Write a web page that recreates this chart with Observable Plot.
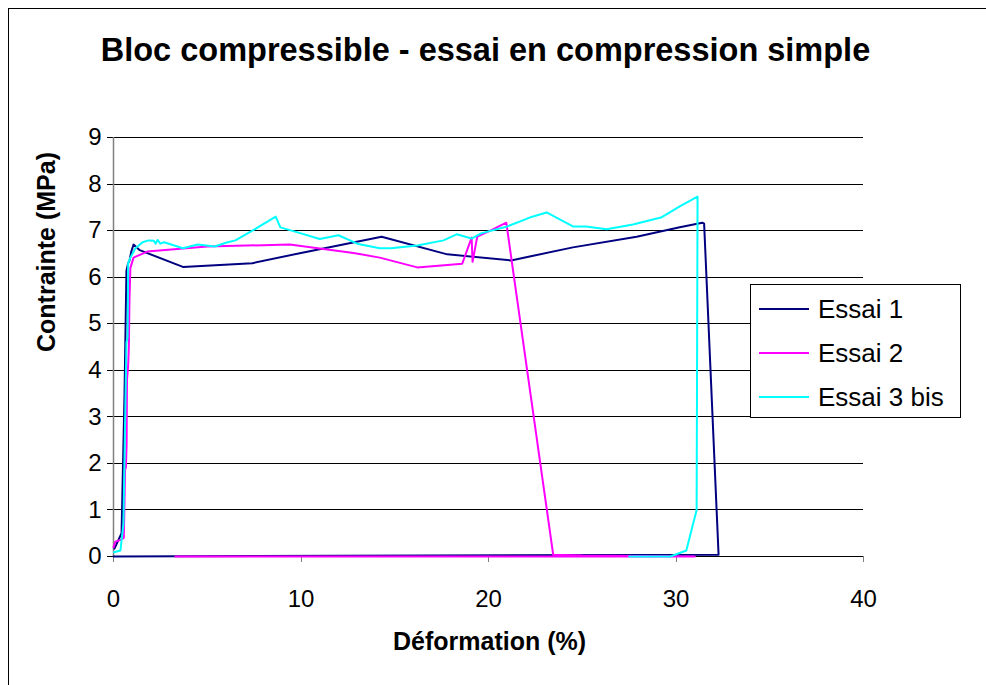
<!DOCTYPE html>
<html><head><meta charset="utf-8">
<script src="https://cdn.jsdelivr.net/npm/d3@7"></script>
<script src="https://cdn.jsdelivr.net/npm/@observablehq/plot@0.6"></script>
<style>
body{margin:0;background:#fff;}
#wrap{position:relative;width:986px;height:685px;overflow:hidden;font-family:"Liberation Sans",Arial,sans-serif;color:#000;}
#frame{position:absolute;left:8px;top:8px;width:1200px;height:1200px;border-left:1px solid #000;border-top:1px solid #000;}
#chart{position:absolute;left:0;top:0;}
#legend{position:absolute;left:750px;top:284px;width:211px;height:134px;border:1px solid #000;background:#fff;box-sizing:border-box;}
.item{position:absolute;left:8px;height:30px;display:flex;align-items:center;font-size:26px;white-space:nowrap;}
.swatch{width:50px;height:2px;margin-right:9px;}
</style></head>
<body><div id="wrap"><div id="frame"></div><div id="chart"></div><div id="legend"></div></div>
<script>
const titleText = "Bloc compressible - essai en compression simple";
const xLabel = "Déformation (%)";
const yLabel = "Contrainte (MPa)";
const seriesNames = ["Essai 1", "Essai 2", "Essai 3 bis"];
const seriesColors = ["#000080", "#FF00FF", "#00FFFF"];
const xTicks = [0, 10, 20, 30, 40];
const yTicks = [0, 1, 2, 3, 4, 5, 6, 7, 8, 9];

const essai1X = [0.05, 0.43, 0.59, 0.69, 0.78, 0.85, 0.95, 1.07, 1.4, 3.7, 7.4, 10.0, 14.3, 17.8, 21.2, 24.5, 27.9, 30.2, 31.4, 31.5, 32.27, 0.0];
const essai1Y = [0.17, 0.5, 3.54, 6.14, 6.3, 6.35, 6.55, 6.7, 6.58, 6.22, 6.3, 6.52, 6.87, 6.49, 6.36, 6.64, 6.87, 7.07, 7.17, 7.15, 0.04, 0.0];

const essai2X = [0.0, 0.1, 0.4, 0.55, 0.62, 0.66, 0.7, 0.72, 0.78, 0.82, 0.85, 0.9, 1.07, 1.8, 5.0, 9.4, 12.8, 14.2, 16.2, 18.6, 19.1, 19.15, 19.4, 20.1, 20.95, 23.45, 25.0, 31.0, 3.3];
const essai2Y = [0.2, 0.32, 0.36, 0.4, 1.9, 1.9, 2.4, 3.8, 4.1, 4.5, 5.5, 6.2, 6.42, 6.55, 6.66, 6.7, 6.52, 6.42, 6.21, 6.29, 6.85, 6.33, 6.87, 7.0, 7.17, 0.04, 0.02, 0.0, 0.0];

const essai3X = [0.02, 0.37, 0.53, 0.69, 0.75, 0.78, 0.9, 1.17, 1.55, 1.87, 2.15, 2.25, 2.35, 2.5, 2.7, 3.7, 4.5, 5.4, 6.0, 6.5, 7.5, 8.65, 8.9, 10.0, 11.0, 12.0, 13.0, 14.2, 14.8, 16.2, 17.6, 18.3, 19.1, 19.6, 21.0, 22.2, 23.1, 24.5, 25.2, 26.3, 27.7, 29.2, 30.2, 31.15, 31.1, 30.55, 29.7, 27.5];
const essai3Y = [0.09, 0.13, 0.7, 4.6, 4.7, 6.3, 6.42, 6.62, 6.75, 6.79, 6.78, 6.72, 6.8, 6.72, 6.75, 6.62, 6.7, 6.66, 6.74, 6.79, 7.02, 7.3, 7.07, 6.94, 6.82, 6.9, 6.72, 6.62, 6.62, 6.68, 6.79, 6.92, 6.83, 6.94, 7.09, 7.28, 7.39, 7.09, 7.09, 7.03, 7.13, 7.28, 7.52, 7.73, 1.0, 0.13, 0.0, 0.0];

const toRows = (xs, ys) => xs.map((x, i) => ({x, y: ys[i]}));
const s1 = toRows(essai1X, essai1Y);
const s2 = toRows(essai2X, essai2Y);
const s3 = toRows(essai3X, essai3Y);

const font = '"Liberation Sans", Arial, sans-serif';
const chart = Plot.plot({
  width: 986, height: 685,
  marginLeft: 113, marginRight: 123, marginTop: 137, marginBottom: 129,
  style: {fontFamily: font, background: "transparent", color: "#000", overflow: "visible"},
  x: {domain: [0, 40]},
  y: {domain: [0, 9]},
  marks: [
    Plot.gridY(yTicks, {stroke: "#000", strokeOpacity: 1, strokeWidth: 1, shapeRendering: "crispEdges"}),
    Plot.axisY(yTicks, {tickSize: 6, tickPadding: 6, fontSize: 24, label: null, stroke: "#000", strokeOpacity: 1, shapeRendering: "crispEdges"}),
    Plot.axisX(xTicks, {tickSize: 6, tickPadding: 27, fontSize: 24, label: null, stroke: "#808080", strokeOpacity: 1, shapeRendering: "crispEdges"}),
    Plot.ruleX([0], {stroke: "#808080", strokeWidth: 1.5}),
    Plot.ruleY([0], {stroke: "#000", strokeWidth: 1, shapeRendering: "crispEdges"}),
    Plot.line(s1, {x: "x", y: "y", stroke: seriesColors[0], strokeWidth: 2}),
    Plot.line(s2, {x: "x", y: "y", stroke: seriesColors[1], strokeWidth: 2}),
    Plot.line(s3, {x: "x", y: "y", stroke: seriesColors[2], strokeWidth: 2}),
    Plot.text([titleText], {frameAnchor: "top", dx: -3, dy: -87, fontSize: 32.5, fontWeight: "bold", fill: "#000", lineAnchor: "middle"}),
    Plot.text([xLabel], {frameAnchor: "bottom", dx: 1, dy: 85, fontSize: 25, fontWeight: "bold", fill: "#000", lineAnchor: "middle"}),
    Plot.text([yLabel], {frameAnchor: "left", dx: -67, dy: 5, rotate: -90, fontSize: 25, fontWeight: "bold", fill: "#000", lineAnchor: "middle"})
  ]
});
document.getElementById("chart").appendChild(chart);

const legend = document.getElementById("legend");
seriesNames.forEach((name, i) => {
  const item = document.createElement("div");
  item.className = "item";
  item.style.top = (9 + i * 44) + "px";
  const sw = document.createElement("div");
  sw.className = "swatch";
  sw.style.background = seriesColors[i];
  const label = document.createElement("span");
  label.textContent = name;
  item.appendChild(sw);
  item.appendChild(label);
  legend.appendChild(item);
});
</script></body></html>
